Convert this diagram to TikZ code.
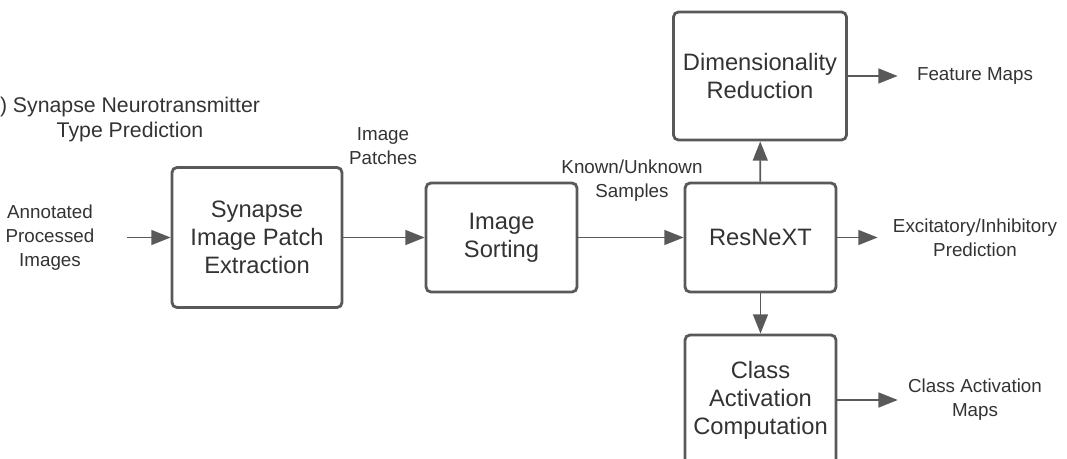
\documentclass[tikz,border=0pt]{standalone}
\usepackage{fontspec}
\setmainfont{Liberation Sans}
\usepackage{tikz}
\usetikzlibrary{arrows.meta,positioning}
\definecolor{boxgray}{RGB}{89,89,89}
\definecolor{txtgray}{RGB}{51,51,51}
\tikzset{
	blk/.style={draw=boxgray, line width=1.6pt, rounded corners=2.8pt, fill=white, text=txtgray, align=center, inner sep=0pt, font=\fontsize{13.5}{15.9}\selectfont},
	lbl/.style={text=txtgray, align=center, inner sep=0pt, font=\fontsize{10.7}{13.6}\selectfont},
	arr/.style={draw=boxgray, line width=1pt, -{Triangle[length=11pt, width=8.5pt]}}
}

\begin{document}
\begin{tikzpicture}[x=0.02cm, y=-0.02cm]
		\useasboundingbox (0,0) rectangle (1067,459);
		\clip (0,0) rectangle (1067,459);
		% Title
		\node[lbl, font=\fontsize{12.1}{14.2}\selectfont] (title) at (130,119.5) {) Synapse Neurotransmitter\\Type Prediction};
		% Blocks
		\node[blk, minimum width=3.4cm, minimum height=2.8cm] (extract) at (257,237.5) {Synapse\\Image Patch\\Extraction};
		\node[blk, minimum width=3.02cm, minimum height=2.18cm] (sorting) at (501.5,237.5) {Image\\Sorting};
		\node[blk, minimum width=3.02cm, minimum height=2.18cm] (resnext) at (760.5,237.5) {ResNeXT};
		\node[blk, minimum width=3.46cm, minimum height=2.56cm] (dimred) at (760,76) {Dimensionality\\Reduction};
		\node[blk, minimum width=3.02cm, minimum height=2.6cm] (cam) at (760.5,400) {Class\\Activation\\Computation};
		% Inputs and outputs
		\node[lbl] (anno) at (50,237.5) {Annotated\\Processed\\Images};
		\node[lbl] (featmap) at (975,76) {Feature Maps};
		\node[lbl] (excinh) at (975,237.5) {Excitatory/Inhibitory\\Prediction};
		\node[lbl] (cammap) at (975,400) {Class Activation\\Maps};
		% Edge labels
		\node[lbl] (patches) at (383,146) {Image\\Patches};
		\node[lbl] (samples) at (632,181) {Known/Unknown\\Samples};
		% Arrows
		\draw[arr, shorten <=0.64cm] (anno) -- (extract);
		\draw[arr] (extract) -- (sorting);
		\draw[arr] (sorting) -- (resnext);
		\draw[arr] (resnext) -- (dimred);
		\draw[arr] (resnext) -- (cam);
		\draw[arr, shorten >=0.38cm] (dimred) -- (featmap);
		\draw[arr, shorten >=0.3cm] (resnext) -- (excinh);
		\draw[arr, shorten >=0.2cm] (cam) -- (cammap);
	\end{tikzpicture}
\end{document}
